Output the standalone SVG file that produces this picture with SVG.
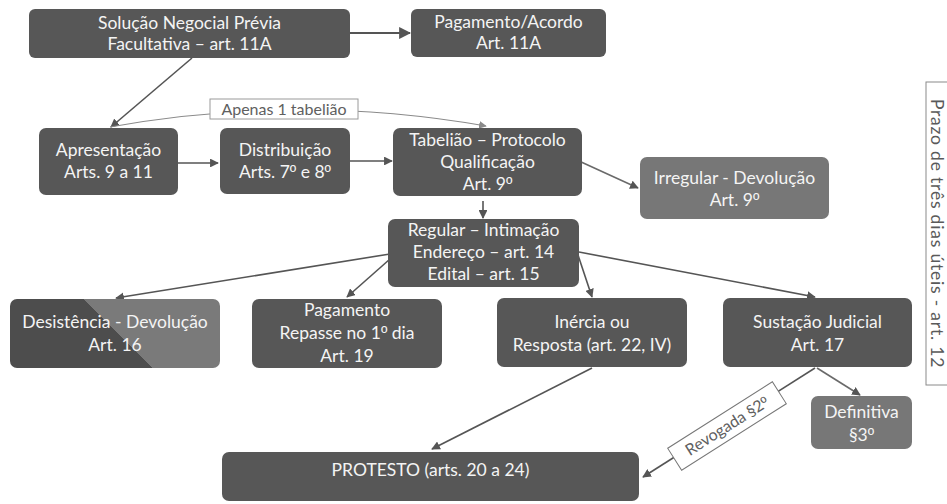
<svg xmlns="http://www.w3.org/2000/svg" width="947" height="504" viewBox="0 0 947 504">
<style>
.box{fill:#575757;}
.lt{fill:#777777;}
.t{font-family:Lato,"Open Sans","Liberation Sans",sans-serif;font-size:17.5px;fill:#f4f4f4;text-anchor:middle;}
.o{font-family:"Liberation Sans","Open Sans",sans-serif;}
.lbl{font-family:Lato,"Open Sans","Liberation Sans",sans-serif;font-size:16px;fill:#606060;text-anchor:middle;}
.c{fill:none;stroke:#555555;stroke-width:1.6;marker-end:url(#ah);}
</style>
<defs>
<marker id="ah" viewBox="0 0 10 10" refX="9" refY="5" markerWidth="5.5" markerHeight="5.5" orient="auto" markerUnits="strokeWidth">
<path d="M0,0 L10,5 L0,10 z" fill="#555555"/>
</marker>
<marker id="ah2" viewBox="0 0 10 10" refX="9" refY="5" markerWidth="7" markerHeight="7" orient="auto" markerUnits="strokeWidth">
<path d="M0,0 L10,5 L0,10 z" fill="#8a8a8a"/>
</marker>
<linearGradient id="split" gradientUnits="userSpaceOnUse" x1="68" y1="383" x2="168" y2="284">
<stop offset="0.5" stop-color="#4d4d4d"/>
<stop offset="0.5" stop-color="#7a7a7a"/>
</linearGradient>
</defs>

<g id="connectors">
<line class="c" x1="350" y1="33" x2="410" y2="33" style="stroke-width:2.2"/>
<line class="c" x1="192" y1="58" x2="111" y2="127"/>
<path d="M110,127 Q298,93 486,126" fill="none" stroke="#8a8a8a" stroke-width="1.1" marker-end="url(#ah2)"/>
<line class="c" x1="178" y1="163" x2="218" y2="163"/>
<line class="c" x1="350" y1="161" x2="392" y2="161"/>
<line class="c" x1="579" y1="161" x2="638" y2="188" style="stroke:#6a6a6a"/>
<line class="c" x1="483" y1="201" x2="483" y2="218"/>
<line class="c" x1="390" y1="254" x2="116" y2="298"/>
<line class="c" x1="390" y1="259" x2="347" y2="297"/>
<line class="c" x1="578" y1="255" x2="592" y2="297"/>
<line class="c" x1="579" y1="252" x2="815" y2="297"/>
<line class="c" x1="592" y1="368" x2="432" y2="449"/>
<line class="c" x1="815" y1="368" x2="643" y2="477"/>
<line class="c" x1="817" y1="368" x2="860" y2="395" style="stroke:#6a6a6a"/>
</g>

<g id="label-apenas">
<rect x="210" y="99" width="148" height="20" fill="#ffffff" stroke="#9a9a9a" stroke-width="1"/>
<text class="lbl" x="284" y="114.5">Apenas 1 tabelião</text>
</g>

<g id="label-revogada" transform="translate(727,426) rotate(-32.4)">
<rect x="-62" y="-13" width="124" height="26" fill="#ffffff" stroke="#777777" stroke-width="1"/>
<text class="lbl" x="0" y="5.5">Revogada §2<tspan class="o">º</tspan></text>
</g>

<g id="n-solucao">
<rect class="box" x="29" y="9" width="321" height="49" rx="6"/>
<text class="t" x="189.5" y="29">Solução Negocial Prévia</text>
<text class="t" x="189.5" y="50">Facultativa – art. 11A</text>
</g>

<g id="n-pagamento-acordo">
<rect class="box" x="411" y="9" width="195" height="48" rx="6"/>
<text class="t" x="508.5" y="28">Pagamento/Acordo</text>
<text class="t" x="508.5" y="49">Art. 11A</text>
</g>

<g id="n-apresentacao">
<rect class="box" x="39" y="128" width="139" height="67" rx="7"/>
<text class="t" x="108.5" y="156">Apresentação</text>
<text class="t" x="108.5" y="178">Arts. 9 a 11</text>
</g>

<g id="n-distribuicao">
<rect class="box" x="220" y="128" width="130" height="66" rx="7"/>
<text class="t" x="285" y="156">Distribuição</text>
<text class="t" x="285" y="178">Arts. 7<tspan class="o">º</tspan> e 8<tspan class="o">º</tspan></text>
</g>

<g id="n-tabeliao">
<rect class="box" x="393" y="128" width="189" height="68" rx="7"/>
<text class="t" x="487.5" y="146">Tabelião – Protocolo</text>
<text class="t" x="487.5" y="168">Qualificação</text>
<text class="t" x="487.5" y="190">Art. 9<tspan class="o">º</tspan></text>
</g>

<g id="n-irregular">
<rect class="lt" x="640" y="157" width="189" height="62" rx="7"/>
<text class="t" x="734.5" y="184">Irregular - Devolução</text>
<text class="t" x="734.5" y="206">Art. 9<tspan class="o">º</tspan></text>
</g>

<g id="n-regular">
<rect class="box" x="388" y="219" width="191" height="68" rx="7"/>
<text class="t" x="483.5" y="236">Regular – Intimação</text>
<text class="t" x="483.5" y="258">Endereço – art. 14</text>
<text class="t" x="483.5" y="280">Edital – art. 15</text>
</g>

<g id="n-desistencia">
<rect x="10" y="299" width="210" height="69" rx="7" fill="url(#split)"/>
<text class="t" x="115" y="328">Desistência - Devolução</text>
<text class="t" x="115" y="351">Art. 16</text>
</g>

<g id="n-pagamento">
<rect class="box" x="252" y="299" width="190" height="69" rx="7"/>
<text class="t" x="347" y="316">Pagamento</text>
<text class="t" x="347" y="339">Repasse no 1<tspan class="o">º</tspan> dia</text>
<text class="t" x="347" y="362">Art. 19</text>
</g>

<g id="n-inercia">
<rect class="box" x="497" y="298" width="190" height="69" rx="7"/>
<text class="t" x="592" y="328">Inércia ou</text>
<text class="t" x="592" y="351">Resposta (art. 22, IV)</text>
</g>

<g id="n-sustacao">
<rect class="box" x="723" y="298" width="189" height="69" rx="7"/>
<text class="t" x="817.5" y="328">Sustação Judicial</text>
<text class="t" x="817.5" y="351">Art. 17</text>
</g>

<g id="n-definitiva">
<rect class="lt" x="811" y="396" width="101" height="53" rx="7"/>
<text class="t" x="861.5" y="418">Definitiva</text>
<text class="t" x="861.5" y="441">§3<tspan class="o">º</tspan></text>
</g>

<g id="n-protesto">
<rect class="box" x="222" y="452" width="417" height="49" rx="7"/>
<text class="t" x="430.5" y="476">PROTESTO (arts. 20 a 24)</text>
</g>

<g id="n-prazo">
<rect x="926" y="82" width="40" height="303" fill="#ffffff" stroke="#8a8a8a" stroke-width="1"/>
<text class="lbl" transform="translate(936,233.5) rotate(90)" x="0" y="5.5" style="font-size:17.5px;letter-spacing:0.8px;fill:#5a5a5a">Prazo de três dias úteis - art. 12</text>
</g>
</svg>
